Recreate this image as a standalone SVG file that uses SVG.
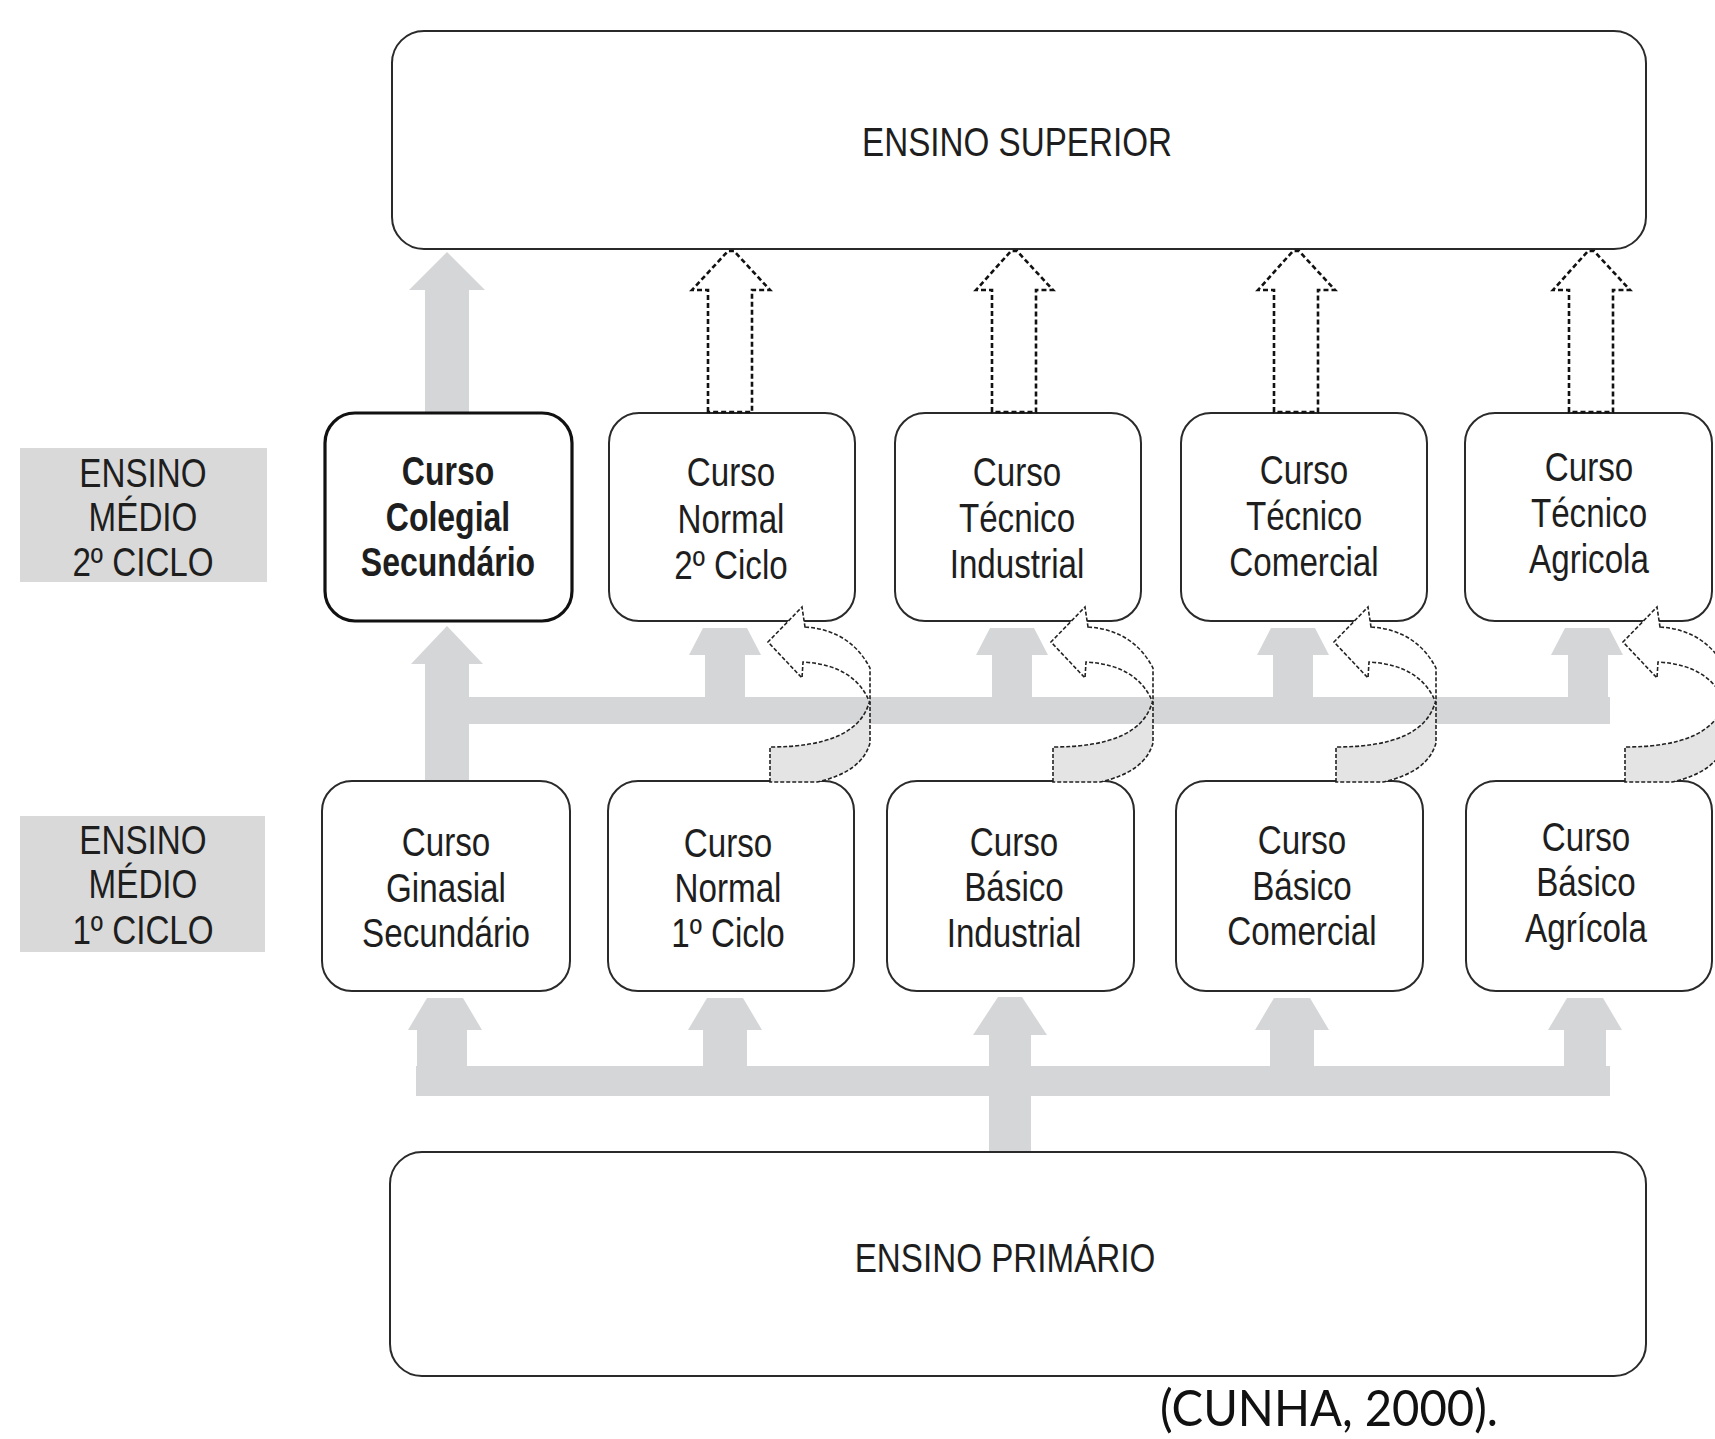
<svg xmlns="http://www.w3.org/2000/svg" xmlns:xlink="http://www.w3.org/1999/xlink" width="1715" height="1439" viewBox="0 0 1715 1439">
<style>
.box{fill:#fff;stroke:#2a2a2a;stroke-width:2}
.bold{stroke:#111;stroke-width:3.2}
.lab{fill:#d9d9d9}
.t{font-family:"Liberation Sans",Arial,sans-serif;font-size:40px;fill:#1e1e1e;text-anchor:middle}
.tb{font-weight:bold}
.g{fill:#d5d6d8}
.dash{fill:#fff;stroke:#111;stroke-width:2.6;stroke-dasharray:5 3}
.cb{fill:#fff;stroke:#222;stroke-width:1.6;stroke-dasharray:4 2}
.cf{fill:#e4e4e4;stroke:#222;stroke-width:1.6;stroke-dasharray:4 2}
.src{font-family:Lato,"Liberation Sans",sans-serif;font-size:50px;fill:#111}
</style>
<defs>
<g id="curl">
<path class="cb" d="M805,627 Q850,630 870,668 L870,703 Q855,665 803,662 L802,678 L768,642 L802,607 Z"/>
<path class="cf" d="M770,782 L770,747 Q856,747 869,703 L870,703 L870,743 Q862,772 817,782 Z"/>
</g>
</defs>
<rect width="1715" height="1439" fill="#fff"/>

<g id="connectors">
<!-- gray flow arrows -->
<polygon class="g" points="425,413 425,290 409,290 447,252 485,290 469,290 469,413"/>
<polygon class="g" points="425,781 425,664 411,664 447,626 483,664 469,664 469,781"/>
<rect class="g" x="425" y="697" width="1185" height="27"/>
<polygon class="g" points="705,700 705,655 689,655 703,628 747,628 761,655 745,655 745,700"/>
<polygon class="g" points="992,700 992,655 976,655 990,628 1034,628 1048,655 1032,655 1032,700"/>
<polygon class="g" points="1273,700 1273,655 1257,655 1271,628 1315,628 1329,655 1313,655 1313,700"/>
<polygon class="g" points="1568,700 1568,655 1551,655 1565,628 1609,628 1623,655 1608,655 1608,700"/>
<rect class="g" x="416" y="1066" width="1194" height="30"/>
<polygon class="g" points="417,1070 417,1030 408,1030 427,998 463,998 482,1030 467,1030 467,1070"/>
<polygon class="g" points="703,1070 703,1030 688,1030 707,998 743,998 762,1030 747,1030 747,1070"/>
<polygon class="g" points="1270,1070 1270,1030 1255,1030 1274,998 1310,998 1329,1030 1314,1030 1314,1070"/>
<polygon class="g" points="1564,1070 1564,1030 1548,1030 1567,998 1603,998 1622,1030 1606,1030 1606,1070"/>
<polygon class="g" points="989,1152 989,1035 973,1035 998,997 1022,997 1047,1035 1031,1035 1031,1152"/>
</g>

<g id="ensino-superior"><rect class="box" x="392" y="31" width="1254" height="218" rx="32"/>
<text class="t" transform="translate(1017 156) scale(0.83 1)">ENSINO SUPERIOR</text></g>

<g id="ensino-primario"><rect class="box" x="390" y="1152" width="1256" height="224" rx="32"/>
<text class="t" transform="translate(1005 1272) scale(0.83 1)">ENSINO PRIMÁRIO</text></g>

<g id="label-2ciclo"><rect class="lab" x="20" y="448" width="247" height="134"/>
<text class="t" transform="translate(143 0) scale(0.83 1)"><tspan x="0" y="487">ENSINO</tspan><tspan x="0" y="531">MÉDIO</tspan><tspan x="0" y="576">2º CICLO</tspan></text></g>

<g id="label-1ciclo"><rect class="lab" x="20" y="816" width="245" height="136"/>
<text class="t" transform="translate(143 0) scale(0.83 1)"><tspan x="0" y="854">ENSINO</tspan><tspan x="0" y="898">MÉDIO</tspan><tspan x="0" y="944">1º CICLO</tspan></text></g>

<g id="colegial"><rect class="box bold" x="325" y="413" width="247" height="208" rx="30"/>
<text class="t tb" transform="translate(448 0) scale(0.8 1)"><tspan x="0" y="485">Curso</tspan><tspan x="0" y="531">Colegial</tspan><tspan x="0" y="576">Secundário</tspan></text></g>

<g id="normal2"><rect class="box" x="609" y="413" width="246" height="208" rx="30"/>
<text class="t" transform="translate(731 0) scale(0.83 1)"><tspan x="0" y="486">Curso</tspan><tspan x="0" y="533">Normal</tspan><tspan x="0" y="579">2º Ciclo</tspan></text></g>

<g id="tec-industrial"><rect class="box" x="895" y="413" width="246" height="208" rx="30"/>
<text class="t" transform="translate(1017 0) scale(0.83 1)"><tspan x="0" y="486">Curso</tspan><tspan x="0" y="532">Técnico</tspan><tspan x="0" y="578">Industrial</tspan></text></g>

<g id="tec-comercial"><rect class="box" x="1181" y="413" width="246" height="208" rx="30"/>
<text class="t" transform="translate(1304 0) scale(0.83 1)"><tspan x="0" y="484">Curso</tspan><tspan x="0" y="530">Técnico</tspan><tspan x="0" y="576">Comercial</tspan></text></g>

<g id="tec-agricola"><rect class="box" x="1465" y="413" width="247" height="208" rx="30"/>
<text class="t" transform="translate(1589 0) scale(0.83 1)"><tspan x="0" y="481">Curso</tspan><tspan x="0" y="527">Técnico</tspan><tspan x="0" y="573">Agricola</tspan></text></g>

<g id="ginasial"><rect class="box" x="322" y="781" width="248" height="210" rx="30"/>
<text class="t" transform="translate(446 0) scale(0.83 1)"><tspan x="0" y="856">Curso</tspan><tspan x="0" y="902">Ginasial</tspan><tspan x="0" y="947">Secundário</tspan></text></g>

<g id="normal1"><rect class="box" x="608" y="781" width="246" height="210" rx="30"/>
<text class="t" transform="translate(728 0) scale(0.83 1)"><tspan x="0" y="857">Curso</tspan><tspan x="0" y="902">Normal</tspan><tspan x="0" y="947">1º Ciclo</tspan></text></g>

<g id="basico-industrial"><rect class="box" x="887" y="781" width="247" height="210" rx="30"/>
<text class="t" transform="translate(1014 0) scale(0.83 1)"><tspan x="0" y="856">Curso</tspan><tspan x="0" y="901">Básico</tspan><tspan x="0" y="947">Industrial</tspan></text></g>

<g id="basico-comercial"><rect class="box" x="1176" y="781" width="247" height="210" rx="30"/>
<text class="t" transform="translate(1302 0) scale(0.83 1)"><tspan x="0" y="854">Curso</tspan><tspan x="0" y="900">Básico</tspan><tspan x="0" y="945">Comercial</tspan></text></g>

<g id="basico-agricola"><rect class="box" x="1466" y="781" width="246" height="210" rx="30"/>
<text class="t" transform="translate(1586 0) scale(0.83 1)"><tspan x="0" y="851">Curso</tspan><tspan x="0" y="896">Básico</tspan><tspan x="0" y="942">Agrícola</tspan></text></g>

<g id="connectors-over">
<!-- dashed arrows to Ensino Superior -->
<polygon class="dash" points="708,412 708,290 692,290 728,251 734,251 770,290 752,290 752,412"/>
<polygon class="dash" points="992,412 992,290 976,290 1011,251 1017,251 1053,290 1036,290 1036,412"/>
<polygon class="dash" points="1274,412 1274,290 1258,290 1293,251 1299,251 1335,290 1318,290 1318,412"/>
<polygon class="dash" points="1569,412 1569,290 1553,290 1588,251 1594,251 1630,290 1613,290 1613,412"/>
<!-- curved transfer arrows -->
<use xlink:href="#curl"/>
<use xlink:href="#curl" transform="translate(283 0)"/>
<use xlink:href="#curl" transform="translate(566 0)"/>
<use xlink:href="#curl" transform="translate(855 0)"/>
</g>

<text class="src" x="1160" y="1426" textLength="338" lengthAdjust="spacingAndGlyphs">(CUNHA, 2000).</text>
</svg>
